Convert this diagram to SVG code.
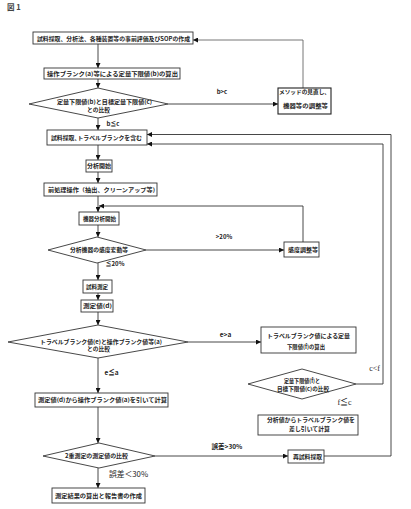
<svg xmlns="http://www.w3.org/2000/svg" width="411" height="509" viewBox="0 0 411 509">
<defs>
<marker id="ah" viewBox="0 0 10 10" refX="10" refY="5" markerWidth="5" markerHeight="5" orient="auto" markerUnits="userSpaceOnUse">
<path d="M0,0 L10,5 L0,10 z" fill="#111"/>
</marker>
</defs>
<style>
.b{fill:#fff;stroke:#333;stroke-width:0.9}
.t{font-family:"Noto Sans CJK JP","Noto Sans",sans-serif;font-size:5.6px;font-weight:bold;fill:#222;text-anchor:middle}
.s{font-family:"Liberation Serif","Noto Sans CJK JP",serif;font-size:8px;fill:#222;text-anchor:middle}
.c{fill:none;stroke:#333;stroke-width:0.9}
.a{marker-end:url(#ah)}
</style>
<rect width="411" height="509" fill="#fff"/>
<text x="7" y="10" style="font-family:'Noto Sans CJK JP',sans-serif;font-size:7.5px;font-weight:bold;fill:#444">図 1</text>

<g id="connectors">
<path class="c a" d="M98,44 V68"/>
<path class="c a" d="M98,79 V88"/>
<path class="c a" d="M98,118 V130"/>
<path class="c a" d="M98,145 V160"/>
<path class="c a" d="M98,172 V183"/>
<path class="c a" d="M98,196 V212"/>
<path class="c a" d="M98,225 V237"/>
<path class="c a" d="M98,263 V280"/>
<path class="c a" d="M98,293 V300"/>
<path class="c a" d="M98,312 V325"/>
<path class="c a" d="M98,358 V393"/>
<path class="c a" d="M98,407 V443"/>
<path class="c a" d="M98,468 V488"/>
<path class="c a" d="M168,104 H278"/>
<path class="c a" d="M303,88 V40 H193" style="stroke:#666"/>
<path class="c a" d="M146,250 H284"/>
<path class="c a" d="M303,242 V206 H99"/>
<path class="c a" d="M188,342 H261"/>
<path class="c a" d="M356,384 H383 V144 H147"/>
<path class="c a" d="M155,456 H288"/>
<path class="c a" d="M324,456 H391 V134.5 H147"/>
</g>

<g id="labels">
<text class="t" x="222" y="94" style="font-size:6px">b&gt;c</text>
<text class="t" x="113" y="126" style="font-size:6px">b≦c</text>
<text class="t" x="224" y="239" style="font-size:6px">&gt;20%</text>
<text class="t" x="115" y="266" style="font-size:6px">≦20%</text>
<text class="t" x="225.5" y="336.5" style="font-size:6.5px">e&gt;a</text>
<text class="t" x="111.5" y="374.5" style="font-size:6.5px">e≦a</text>
<text class="s" x="374.5" y="370.5">c&lt;f</text>
<text class="s" x="344.5" y="404.5">f≦c</text>
<text class="t" x="227" y="449" style="font-size:6.5px">誤差&gt;30%</text>
<text class="t" x="128.5" y="476.5" style="font-size:7.8px;font-weight:normal">誤差＜30%</text>
</g>

<g id="n1"><rect class="b" x="33" y="32" width="160" height="12"/>
<text class="t" x="113.5" y="40.5" textLength="153" lengthAdjust="spacingAndGlyphs">試料採取、分析法、各種装置等の事前評価及びSOPの作成</text></g>

<g id="n2"><rect class="b" x="44" y="68" width="136" height="11"/>
<text class="t" x="112.5" y="75.8" textLength="131" lengthAdjust="spacingAndGlyphs">操作ブランク(a)等による定量下限値(b)の算出</text></g>

<g id="d1"><polygon class="b" points="98,88 168,104 98,118 29,104"/>
<text class="t" x="104.5" y="104" textLength="95" lengthAdjust="spacingAndGlyphs">定量下限値(b)と目標定量下限値(c)</text>
<text class="t" x="98.5" y="112" textLength="23" lengthAdjust="spacingAndGlyphs">との比較</text></g>

<g id="n_m"><rect class="b" x="278" y="88" width="53" height="26" style="stroke:#222;stroke-width:1.1"/>
<text class="t" x="304.5" y="94" textLength="51" lengthAdjust="spacingAndGlyphs">メソッドの見直し、</text>
<text class="t" x="305.5" y="108" textLength="45" lengthAdjust="spacingAndGlyphs">機器等の調整等</text></g>

<g id="n3"><rect class="b" x="47" y="130" width="100" height="15"/>
<text class="t" x="96.5" y="139.7" textLength="91" lengthAdjust="spacingAndGlyphs">試料採取､トラベルブランクを含む</text></g>

<g id="n4"><rect class="b" x="86" y="160" width="26" height="12"/>
<text class="t" x="99" y="168" textLength="24" lengthAdjust="spacingAndGlyphs">分析開始</text></g>

<g id="n5"><rect class="b" x="44" y="183" width="113" height="13"/>
<text class="t" x="101.5" y="192" textLength="107" lengthAdjust="spacingAndGlyphs">前処理操作（抽出、クリーンアップ等)</text></g>

<g id="n6"><rect class="b" x="79" y="212" width="40" height="13"/>
<text class="t" x="99.5" y="221" textLength="33" lengthAdjust="spacingAndGlyphs">機器分析開始</text></g>

<g id="d2"><polygon class="b" points="97,237 146,250 97,263 48,250"/>
<text class="t" x="99" y="252" textLength="58" lengthAdjust="spacingAndGlyphs">分析機器の感度変動等</text></g>

<g id="n_k"><rect class="b" x="284" y="242" width="35" height="15"/>
<text class="t" x="303" y="252" textLength="30" lengthAdjust="spacingAndGlyphs">感度調整等</text></g>

<g id="n7"><rect class="b" x="83" y="280" width="29" height="13"/>
<text class="t" x="97" y="289" textLength="22" lengthAdjust="spacingAndGlyphs">試料測定</text></g>

<g id="n8"><rect class="b" x="81" y="300" width="32" height="12"/>
<text class="t" x="97.5" y="308" textLength="29" lengthAdjust="spacingAndGlyphs">測定値(d)</text></g>

<g id="d3"><polygon class="b" points="98,325 188,342 98,358 8,342"/>
<text class="t" x="101" y="343.5" textLength="122" lengthAdjust="spacingAndGlyphs">トラベルブランク値(e)と操作ブランク値等(a)</text>
<text class="t" x="98.5" y="351" textLength="23" lengthAdjust="spacingAndGlyphs">との比較</text></g>

<g id="n_f"><rect class="b" x="261" y="327" width="95" height="26"/>
<text class="t" x="308.5" y="338" textLength="83" lengthAdjust="spacingAndGlyphs">トラベルブランク値による定量</text>
<text class="t" x="306" y="349" textLength="38" lengthAdjust="spacingAndGlyphs">下限値(f)の算出</text></g>

<g id="d4"><polygon class="b" points="302,369 356,384 302,399 248,384"/>
<text class="t" x="302" y="383" textLength="36" lengthAdjust="spacingAndGlyphs">定量下限値(f)と</text>
<text class="t" x="303" y="390.5" textLength="52" lengthAdjust="spacingAndGlyphs">目標下限値(c)の比較</text></g>

<g id="n9"><rect class="b" x="35" y="393" width="133" height="14"/>
<text class="t" x="102.5" y="402" textLength="129" lengthAdjust="spacingAndGlyphs">測定値(d)から操作ブランク値(a)を引いて計算</text></g>

<g id="n_s"><rect class="b" x="258" y="415" width="100" height="20"/>
<text class="t" x="311" y="422" textLength="88" lengthAdjust="spacingAndGlyphs">分析値からトラベルブランク値を</text>
<text class="t" x="309.5" y="430.5" textLength="41" lengthAdjust="spacingAndGlyphs">差し引いて計算</text></g>

<g id="d5"><polygon class="b" points="99,443 155,456 99,468 43,456"/>
<text class="t" x="96.5" y="458" textLength="63" lengthAdjust="spacingAndGlyphs">2重測定の測定値の比較</text></g>

<g id="n_r"><rect class="b" x="288" y="450" width="36" height="13"/>
<text class="t" x="307.5" y="459" textLength="29" lengthAdjust="spacingAndGlyphs">再試料採取</text></g>

<g id="n10"><rect class="b" x="52" y="488" width="93" height="15"/>
<text class="t" x="98.5" y="497.5" textLength="87" lengthAdjust="spacingAndGlyphs">測定結果の算出と報告書の作成</text></g>
</svg>
